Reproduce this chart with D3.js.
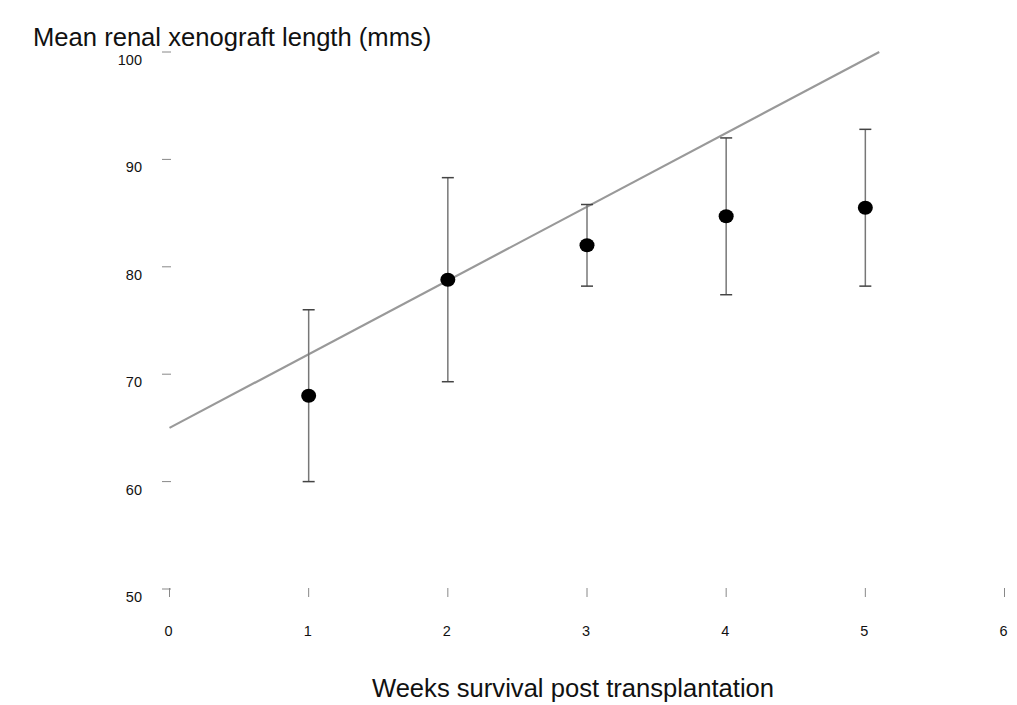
<!DOCTYPE html>
<html>
<head>
<meta charset="utf-8">
<script src="https://cdn.jsdelivr.net/npm/d3@7"></script>
<style>
  body { margin: 0; background: #fff; }
  text { font-family: "Liberation Sans", Arial, sans-serif; fill: #111; }
</style>
</head>
<body>
<svg id="chart" width="1017" height="705"></svg>
<script>
// data
var weeks = [1, 2, 3, 4, 5];
var meanLength = [68, 78.8, 82, 84.7, 85.5];
var upperBar = [76, 88.3, 85.8, 92, 92.8];
var lowerBar = [60, 69.3, 78.2, 77.4, 78.2];
var fitLine = [[0, 65], [5.1, 100]];   // regression line as drawn
var xTicks = [0, 1, 2, 3, 4, 5, 6];
var yTicks = [50, 60, 70, 80, 90, 100];

var svg = d3.select("#chart");

var x = d3.scaleLinear().domain([0, 6]).range([169.5, 1004.5]);
var y = d3.scaleLinear().domain([50, 100]).range([589, 52]);

// y ticks: short grey dashes, labels sit a bit below
var yg = svg.append("g");
yg.selectAll("line").data(yTicks).enter().append("line")
  .attr("x1", 162).attr("x2", 171)
  .attr("y1", function (d) { return y(d); })
  .attr("y2", function (d) { return y(d); })
  .attr("stroke", "#888").attr("stroke-width", 1);
yg.selectAll("text").data(yTicks).enter().append("text")
  .attr("x", 142)
  .attr("y", function (d) { return y(d) + 13; })
  .attr("text-anchor", "end")
  .attr("font-size", 14.5)
  .text(function (d) { return d; });

// x ticks
var xg = svg.append("g");
xg.selectAll("line").data(xTicks).enter().append("line")
  .attr("x1", function (d) { return x(d); })
  .attr("x2", function (d) { return x(d); })
  .attr("y1", 588).attr("y2", 597)
  .attr("stroke", "#888").attr("stroke-width", 1);
xg.selectAll("text").data(xTicks).enter().append("text")
  .attr("x", function (d) { return x(d) - 1; })
  .attr("y", 636)
  .attr("text-anchor", "middle")
  .attr("font-size", 14.5)
  .text(function (d) { return d; });

// regression line
var line = d3.line()
  .x(function (d) { return x(d[0]); })
  .y(function (d) { return y(d[1]); });
svg.append("path")
  .datum(fitLine)
  .attr("d", line)
  .attr("fill", "none")
  .attr("stroke", "#999")
  .attr("stroke-width", 2.2);

// error bars
var pts = weeks.map(function (w, i) {
  return { w: w, m: meanLength[i], hi: upperBar[i], lo: lowerBar[i] };
});
var eb = svg.append("g").selectAll("g").data(pts).enter().append("g");
eb.append("line")
  .attr("x1", function (d) { return x(d.w); })
  .attr("x2", function (d) { return x(d.w); })
  .attr("y1", function (d) { return y(d.hi); })
  .attr("y2", function (d) { return y(d.lo); })
  .attr("stroke", "#777").attr("stroke-width", 1.5);
["hi", "lo"].forEach(function (k) {
  eb.append("line")
    .attr("x1", function (d) { return x(d.w) - 6; })
    .attr("x2", function (d) { return x(d.w) + 6; })
    .attr("y1", function (d) { return y(d[k]); })
    .attr("y2", function (d) { return y(d[k]); })
    .attr("stroke", "#444").attr("stroke-width", 1.5);
});

// means
svg.append("g").selectAll("ellipse").data(pts).enter().append("ellipse")
  .attr("cx", function (d) { return x(d.w); })
  .attr("cy", function (d) { return y(d.m); })
  .attr("rx", 7.5).attr("ry", 7)
  .attr("fill", "#000");

// axis titles
svg.append("text")
  .attr("x", 33).attr("y", 46)
  .attr("font-size", 25.6)
  .text("Mean renal xenograft length (mms)");
svg.append("text")
  .attr("x", 573).attr("y", 697)
  .attr("text-anchor", "middle")
  .attr("font-size", 25.6)
  .text("Weeks survival post transplantation");
</script>
</body>
</html>
